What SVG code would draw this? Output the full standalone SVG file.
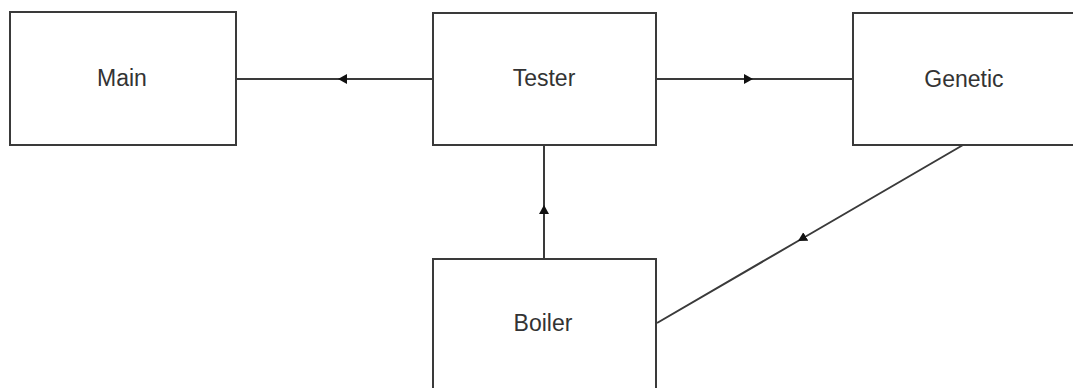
<svg xmlns="http://www.w3.org/2000/svg" width="1073" height="388" viewBox="0 0 1073 388">
<style>
.box{fill:#fff;stroke:#3a3a3a;stroke-width:2}
.lbl{font-family:"Liberation Sans",Arial,sans-serif;font-size:23px;fill:#333;text-anchor:middle}
.conn{fill:none;stroke:#3a3a3a;stroke-width:2;marker-mid:url(#arr)}
</style>
<defs>
<marker id="arr" markerUnits="userSpaceOnUse" markerWidth="12" markerHeight="12" refX="9" refY="5" orient="auto">
<path d="M0,0 L9,5 L0,10 z" fill="#111"/>
</marker>
</defs>
<rect width="1073" height="388" fill="#fff"/>
<g id="connectors">
<path class="conn" d="M433 79 L338 79 L236 79"/>
<path class="conn" d="M656 79 L753 79 L853 79"/>
<path class="conn" d="M544 259 L544 205 L544 145"/>
<path class="conn" d="M963 145 L798 241 L657 323"/>
</g>
<g id="main"><rect class="box" x="10" y="12" width="226" height="133"/><text class="lbl" x="122" y="86">Main</text></g>
<g id="tester"><rect class="box" x="433" y="13" width="223" height="132"/><text class="lbl" x="544" y="86">Tester</text></g>
<g id="genetic"><rect class="box" x="853" y="13" width="223" height="132"/><text class="lbl" x="964" y="87">Genetic</text></g>
<g id="boiler"><rect class="box" x="433" y="259" width="223" height="133"/><text class="lbl" x="543" y="331">Boiler</text></g>
</svg>
